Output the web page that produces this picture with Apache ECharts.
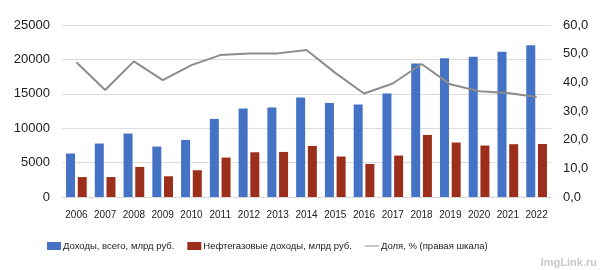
<!DOCTYPE html>
<html><head><meta charset="utf-8">
<script src="https://cdn.jsdelivr.net/npm/echarts@6/dist/echarts.min.js"></script>
<style>html,body{margin:0;padding:0;background:#fff}#c{width:603px;height:270px}</style>
</head><body><div id="c"></div>
<script>
var years = ['2006','2007','2008','2009','2010','2011','2012','2013','2014','2015','2016','2017','2018','2019','2020','2021','2022'];
var totalRevenue = [6320,7770,9230,7330,8300,11350,12870,13010,14470,13680,13450,15050,19420,20150,20380,21100,22040];
var oilGasRevenue = [2900,2900,4370,3010,3890,5730,6500,6550,7420,5880,4800,6020,9020,7920,7480,7670,7710];
var sharePct = [47.0,37.3,47.3,40.8,46.0,49.5,50.1,50.1,51.3,43.3,36.1,39.6,46.4,39.3,36.9,36.3,34.9];
var leftTicks = [0,5000,10000,15000,20000,25000];
var rightTicks = [0,10,20,30,40,50,60];

var font = 'Liberation Sans';
var chart = echarts.init(document.getElementById('c'));
chart.setOption({
  animation: false,
  textStyle: {fontFamily: font},
  grid: {left: 62, right: 52, top: 25, bottom: 73},
  legend: {
    top: 236, left: 42, width: 560, itemGap: 13, itemWidth: 14, itemHeight: 8,
    textStyle: {fontSize: 9.5, color: '#222', fontFamily: font, padding: [0,0,0,-3]},
    data: [
      {name: 'Доходы, всего, млрд руб.', icon: 'rect'},
      {name: 'Нефтегазовые доходы, млрд руб.', icon: 'rect'},
      {name: 'Доля, % (правая шкала)', icon: 'path://M0,0H14V1H0Z'}
    ]
  },
  xAxis: {
    type: 'category', data: years,
    axisLine: {lineStyle: {color: '#d9d9d9'}},
    axisTick: {show: false},
    axisLabel: {color: '#222', fontSize: 10, margin: 13, interval: 0}
  },
  yAxis: [
    {type: 'value', min: leftTicks[0], max: leftTicks[leftTicks.length-1], interval: 5000,
     axisLine: {show: false}, axisTick: {show: false},
     splitLine: {lineStyle: {color: '#dcdcdc'}},
     axisLabel: {color: '#222', fontSize: 13, margin: 12, formatter: function(v){return String(v);}}},
    {type: 'value', min: rightTicks[0], max: rightTicks[rightTicks.length-1], interval: 10,
     axisLine: {show: false}, axisTick: {show: false}, splitLine: {show: false},
     axisLabel: {color: '#222', fontSize: 13, margin: 12,
       formatter: function(v){return v.toFixed(1).replace('.', ',');}}}
  ],
  series: [
    {name: 'Доходы, всего, млрд руб.', type: 'bar', data: totalRevenue, barWidth: 9, barGap: '30%',
     itemStyle: {color: '#4472c4'}},
    {name: 'Нефтегазовые доходы, млрд руб.', type: 'bar', data: oilGasRevenue, barWidth: 9,
     itemStyle: {color: '#9c2f1c'}},
    {name: 'Доля, % (правая шкала)', type: 'line', yAxisIndex: 1, data: sharePct,
     symbol: 'none', lineStyle: {color: '#8c8c8c', width: 2}, itemStyle: {color: '#8c8c8c'}}
  ],
  graphic: [{type: 'text', right: 6, bottom: 2,
    style: {text: 'ImgLink.ru', fill: '#c8c8c8', font: 'bold 11px ' + font}}]
});
</script></body></html>
